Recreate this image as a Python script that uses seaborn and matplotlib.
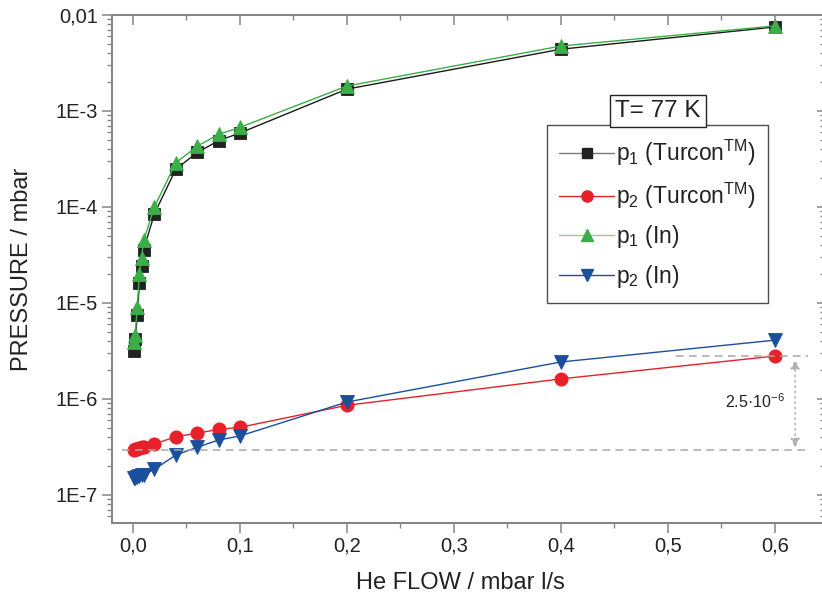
import numpy as np
import pandas as pd
import matplotlib
matplotlib.use("Agg")
import matplotlib.pyplot as plt
from matplotlib.ticker import FixedLocator, FixedFormatter, LogLocator, NullFormatter, MultipleLocator
from matplotlib.lines import Line2D
import seaborn as sns

# He flow (mbar l/s) and measured pressures (mbar) at T = 77 K
flow = [0.001, 0.002, 0.004, 0.006, 0.008, 0.01, 0.02, 0.04, 0.06, 0.08, 0.1, 0.2, 0.4, 0.6]
p1_turcon = [3.2e-6, 4.2e-6, 7.5e-6, 1.63e-5, 2.4e-5, 3.6e-5, 8.5e-5, 2.47e-4, 3.7e-4, 4.9e-4, 5.9e-4, 1.69e-3, 4.4e-3, 7.5e-3]
p2_turcon = [2.95e-7, 3.0e-7, 3.05e-7, 3.1e-7, 3.15e-7, 3.2e-7, 3.4e-7, 4.05e-7, 4.4e-7, 4.83e-7, 5.07e-7, 8.6e-7, 1.62e-6, 2.8e-6]
p1_in = [3.95e-6, 4.6e-6, 9.1e-6, 2.0e-5, 2.95e-5, 4.5e-5, 1.0e-4, 2.88e-4, 4.3e-4, 5.7e-4, 6.75e-4, 1.82e-3, 4.75e-3, 7.7e-3]
p2_in = [1.49e-7, 1.5e-7, 1.55e-7, 1.58e-7, 1.61e-7, 1.63e-7, 1.85e-7, 2.61e-7, 3.14e-7, 3.74e-7, 4.12e-7, 9.3e-7, 2.43e-6, 4.1e-6]

series_labels = ["p$_1$ (Turcon$^{TM}$)", "p$_2$ (Turcon$^{TM}$)", "p$_1$ (In)", "p$_2$ (In)"]

xtick_values = [0.0, 0.1, 0.2, 0.3, 0.4, 0.5, 0.6]
xtick_labels = ["0,0", "0,1", "0,2", "0,3", "0,4", "0,5", "0,6"]
ytick_values = [1e-7, 1e-6, 1e-5, 1e-4, 1e-3, 1e-2]
ytick_labels = ["1E-7", "1E-6", "1E-5", "1E-4", "1E-3", "0,01"]

title_text = "T= 77 K"
diff_text = "2.5·10$^{-6}$"

sns.set_theme(style="white")
plt.rcParams["font.family"] = ["Liberation Sans", "DejaVu Sans"]
plt.rcParams["mathtext.default"] = "regular"

styles = [
    dict(marker="s", color="#222222", line="#1a1a1a", legend_line="#7a7a7a", ms=8.5),
    dict(marker="o", color="#e8202a", line="#e8202a", legend_line="#e8202a", ms=9.5),
    dict(marker="^", color="#3aae48", line="#3aae48", legend_line="#8fd08f", ms=10.5),
    dict(marker="v", color="#1b4f9c", line="#1b4f9c", legend_line="#1b4f9c", ms=10.5),
]

frames = []
for lab, vals in zip(series_labels, [p1_turcon, p2_turcon, p1_in, p2_in]):
    frames.append(pd.DataFrame({"flow": flow, "pressure": vals, "series": lab}))
df = pd.concat(frames, ignore_index=True)

fig = plt.figure(figsize=(8.22, 6.05), dpi=100)
ax = fig.add_axes([111.6 / 822, 82 / 605, 712.4 / 822, 508 / 605])

xlim = (-0.02, 0.646)
ylim = (10 ** (-7.2917), 1e-2)

for lab, st in zip(series_labels, styles):
    sub = df[df["series"] == lab]
    sns.lineplot(data=sub, x="flow", y="pressure", ax=ax, color=st["line"], lw=1.0,
                 marker=st["marker"], markersize=st["ms"], markerfacecolor=st["color"],
                 markeredgecolor=st["color"], markeredgewidth=0.6,
                 estimator=None, sort=False, label=lab, legend=False)

ax.set_yscale("log")
ax.set_xlim(*xlim)
ax.set_ylim(*ylim)

# reference lines for the p2 (Turcon) rise
lo, hi = p2_turcon[0], p2_turcon[-1]
ax.plot([-0.01, 0.628], [lo, lo], ls=(0, (5, 3.5)), color="#a8a8a8", lw=1.1)
ax.plot([0.508, 0.631], [hi, hi], ls=(0, (5, 3.5)), color="#a8a8a8", lw=1.1)
ax.annotate("", xy=(0.619, hi * 0.92), xytext=(0.619, lo * 1.05),
            arrowprops=dict(arrowstyle="<|-|>", color="#b0b0b0", lw=1.1, ls=(0, (1, 2.5)),
                            mutation_scale=14, shrinkA=0, shrinkB=0))
ax.text(0.581, 9.3e-7, diff_text, fontsize=11.5, color="#222222", ha="center", va="center")

# axes styling
spine_c = "#858585"
for s in ax.spines.values():
    s.set_color(spine_c)
    s.set_linewidth(1.3)

ax.xaxis.set_major_locator(FixedLocator(xtick_values))
ax.xaxis.set_major_formatter(FixedFormatter(xtick_labels))
ax.xaxis.set_minor_locator(MultipleLocator(0.05))
ax.yaxis.set_major_locator(FixedLocator(ytick_values))
ax.yaxis.set_major_formatter(FixedFormatter(ytick_labels))
ax.yaxis.set_minor_locator(LogLocator(base=10, subs=np.arange(2, 10)))
ax.yaxis.set_minor_formatter(NullFormatter())

ax.tick_params(which="major", direction="out", length=7, width=1.1, color=spine_c,
               labelsize=14.5, labelcolor="#222222", pad=3, bottom=True, left=True)
ax.tick_params(which="minor", direction="out", length=3.8, width=1.0, color=spine_c,
               bottom=True, left=True)

# inward ticks on top and right
axt = ax.twiny()
axt.set_xlim(*xlim)
axt.xaxis.set_major_locator(FixedLocator(xtick_values))
axt.xaxis.set_minor_locator(MultipleLocator(0.05))
axt.tick_params(which="major", direction="in", length=7, width=1.1, color=spine_c, labeltop=False, top=True)
axt.tick_params(which="minor", direction="in", length=3.8, width=1.0, color=spine_c, top=True)
axr = ax.twinx()
axr.set_yscale("log")
axr.set_ylim(*ylim)
axr.yaxis.set_major_locator(FixedLocator(ytick_values))
axr.yaxis.set_minor_locator(LogLocator(base=10, subs=np.arange(2, 10)))
axr.tick_params(which="major", direction="in", length=5, width=1.1, color=spine_c, labelright=False, right=True)
axr.tick_params(which="minor", direction="in", length=3, width=1.0, color=spine_c, right=True)
for a in (axt, axr):
    for s in a.spines.values():
        s.set_color(spine_c)
        s.set_linewidth(1.3)

ax.set_xlabel("He FLOW / mbar l/s", fontsize=17, color="#222222")
ax.set_ylabel("PRESSURE / mbar", fontsize=17, color="#222222")
ax.xaxis.set_label_coords(0.49, -0.097)
ax.yaxis.set_label_coords(-0.110, 0.5)

# legend with line-marker-line handles
handles = [Line2D([], [], color=st["legend_line"], lw=1.0, marker=st["marker"],
                  markersize=st["ms"] * 0.85, markerfacecolor=st["color"],
                  markeredgecolor=st["color"]) for st in styles]
leg = ax.legend(handles, series_labels, loc="upper left", bbox_to_anchor=(0.611, 0.783),
                borderaxespad=0, fontsize=16.5, frameon=True, fancybox=False,
                handlelength=2.4, handletextpad=0.05, labelspacing=0.55,
                borderpad=0.55, numpoints=1)
leg.get_frame().set_edgecolor("#222222")
leg.get_frame().set_linewidth(1.0)
for t in leg.get_texts():
    t.set_color("#222222")
leg.set_zorder(5)

axr.text(0.767, 0.811, title_text, transform=ax.transAxes, fontsize=17.5, color="#222222",
         ha="center", va="center",
         bbox=dict(boxstyle="square,pad=0.2", fc="white", ec="#222222", lw=1.0))

fig.savefig("out.png", dpi=100)
